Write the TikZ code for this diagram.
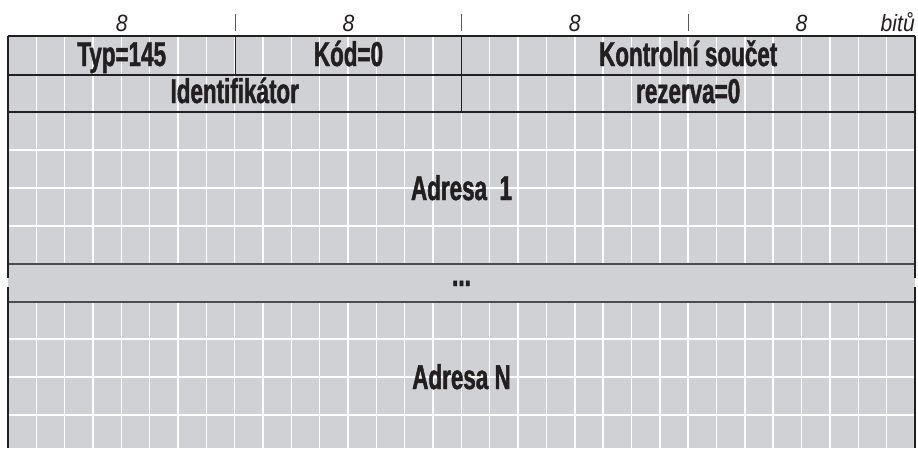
\documentclass[tikz,border=0pt]{standalone}
\usepackage{fontspec}
\setmainfont{Liberation Sans}[FakeStretch=0.65]
\newfontfamily\fieldfont{Liberation Sans Bold}[FakeStretch=0.65, FakeBold=1.3]
\newfontfamily\widthfont{Liberation Sans}[FakeStretch=0.9]
\usetikzlibrary{positioning}

\definecolor{cellgrey}{RGB}{208,209,212}
\definecolor{inkgrey}{RGB}{35,31,32}

\begin{document}
\begin{tikzpicture}[
  x=1pt, y=-1pt,
  field/.style={
    font=\fieldfont\fontsize{34.5}{34.5}\selectfont,
    text=inkgrey,
    inner sep=0pt,
    anchor=base
  },
  bitwidth/.style={
    font=\widthfont\itshape\fontsize{23.5}{23.5}\selectfont,
    text=inkgrey,
    inner sep=0pt,
    anchor=base
  },
  border/.style={line width=2.6pt, inkgrey},
  rowline/.style={line width=1.5pt, inkgrey},
  gapline/.style={line width=1.8pt, black!70},
  gridline/.style={line width=1.4pt, white},
  tick/.style={line width=1pt, black!65}
]
\useasboundingbox (0,0) rectangle (918,448);

% --- Cells ---
\fill[cellgrey] (8,36) rectangle (915,448);

\foreach \k in {1,...,31} {
  \draw[gridline] ({8+\k*28.34},36) -- ({8+\k*28.34},264);
  \draw[gridline] ({8+\k*28.34},302) -- ({8+\k*28.34},448);
}
\foreach \y in {150,188,226,339,377,415}
  \draw[gridline] (8,\y) -- (915,\y);

% --- Header fields ---
\draw[rowline] (8,75) -- (915,75);
\draw[rowline] (8,112) -- (915,112);
\draw[rowline] (235.4,36) -- (235.4,75);
\draw[rowline] (461.5,36) -- (461.5,112);

% --- Break row ---
\draw[gapline] (8,264) -- (915,264);
\draw[gapline] (8,302) -- (915,302);

% --- Frame ---
\draw[border] (8,36) -- (915,36);
\draw[border] (8,36) -- (8,278);
\draw[border] (8,287) -- (8,448);
\draw[border] (915,36) -- (915,278);
\draw[border] (915,287) -- (915,448);

% --- Bit widths ---
\foreach \x in {235.4,461.5,688.2}
  \draw[tick] (\x,14) -- (\x,31);
\foreach \x/\n in {121.7/w1,348.5/w2,574.8/w3,801.6/w4}
  \node[bitwidth] (\n) at (\x,31) {8};
\node[bitwidth, anchor=base east] (unit) at (915,31) {bitů};

% --- Field labels ---
\node[field] (typ) at (121.7,66) {Typ=145};
\node[field] (kod) at (348.5,66) {Kód=0};
\node[field] (checksum) at (688.2,66) {Kontrolní součet};
\node[field] (ident) at (234.7,103) {Identifikátor};
\node[field] (reserve) at (688.2,103) {rezerva=0};
\node[field] (addr1) at (461.5,200) {Adresa\ \ 1};
\node[field] (dots) at (461.5,286) {...};
\node[field] (addrN) at (461.5,389) {Adresa N};

\end{tikzpicture}
\end{document}
